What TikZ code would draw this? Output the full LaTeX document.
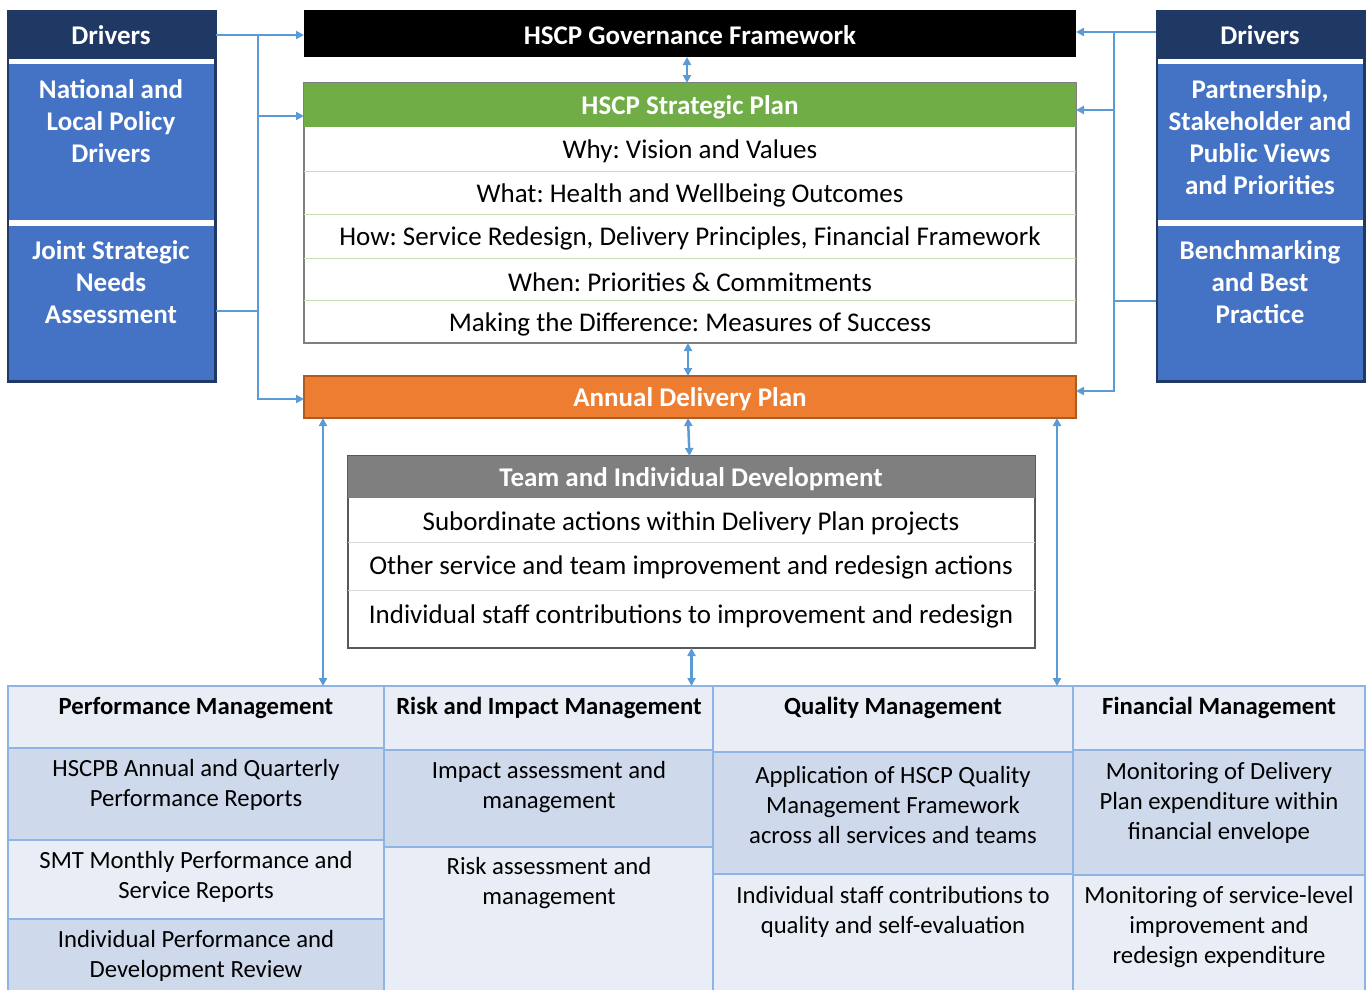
\documentclass[tikz,border=0pt]{standalone}
\usepackage{fontspec}
\setmainfont{Carlito}
\frenchspacing
\usetikzlibrary{arrows.meta}
\definecolor{navy}{HTML}{203864}
\definecolor{drvblue}{HTML}{4472C4}
\definecolor{linkblue}{HTML}{5B9BD5}
\definecolor{spgreen}{HTML}{70AD47}
\definecolor{spline}{HTML}{C5E0B4}
\definecolor{adporange}{HTML}{ED7D31}
\definecolor{adpedge}{HTML}{AE5A21}
\definecolor{tidgray}{HTML}{7F7F7F}
\definecolor{tidline}{HTML}{D9D9D9}
\definecolor{celllight}{HTML}{E9EDF5}
\definecolor{celldark}{HTML}{CFD9EC}
\definecolor{celledge}{HTML}{8EB4E3}
\tikzset{
	box/.style={anchor=north west, inner sep=0pt, outer sep=0pt},
	cell/.style={box, draw=celledge, line width=1.5pt},
	txt/.style={align=center, inner sep=0pt, yshift=-2pt, font=\fontsize{27}{32}\selectfont},
	bold/.style={txt, yshift=1pt, font=\fontsize{27}{32}\selectfont\bfseries, text=white},
	tabtxt/.style={align=center, inner sep=0pt, yshift=-2pt, font=\fontsize{24.7}{30}\selectfont},
	tabhead/.style={tabtxt, font=\fontsize{24.7}{30}\selectfont\bfseries},
	link/.style={draw=linkblue, line width=2.5pt},
	tip/.style={-{Triangle[length=8pt,width=8pt]}},
	dlink/.style={link, {Triangle[length=8pt,width=8pt]}-{Triangle[length=8pt,width=8pt]}}
}
\begin{document}
\begin{tikzpicture}[x=1pt, y=-1pt]
	\useasboundingbox (0,0) rectangle (1370,989);

	% drivers, left
	\node[box, fill=navy, draw=navy, line width=1pt, minimum width=209pt, minimum height=372pt] (drvL) at (7,10) {};
	\fill[white] (9,59) rectangle (214,226);
	\node[box, fill=drvblue, minimum width=205pt, minimum height=156pt] (polL) at (9,64) {};
	\node[box, fill=drvblue, minimum width=205pt, minimum height=154pt] (jsnL) at (9,226) {};
	\node[bold] (drvLt) at (111,34) {Drivers};
	\node[bold] (polLt) at (111,120) {National and\\Local Policy\\Drivers};
	\node[bold] (jsnLt) at (111,281) {Joint Strategic\\Needs\\Assessment};

	% drivers, right
	\node[box, fill=navy, draw=navy, line width=1pt, minimum width=209pt, minimum height=372pt] (drvR) at (1156,10) {};
	\fill[white] (1158,59) rectangle (1363,226);
	\node[box, fill=drvblue, minimum width=205pt, minimum height=156pt] (pubR) at (1158,64) {};
	\node[box, fill=drvblue, minimum width=205pt, minimum height=154pt] (bmkR) at (1158,226) {};
	\node[bold] (drvRt) at (1260,34) {Drivers};
	\node[bold] (pubRt) at (1260,136) {Partnership,\\Stakeholder and\\Public Views\\and Priorities};
	\node[bold] (bmkRt) at (1260,281) {Benchmarking\\and Best\\Practice};

	% governance and strategic plan
	\node[box, fill=black, minimum width=772pt, minimum height=47pt] (gov) at (304,10) {};
	\node[bold] (govt) at (690,34) {HSCP Governance Framework};
	\node[box, draw=tidgray, line width=1.5pt, minimum width=772pt, minimum height=260pt] (sp) at (304,83) {};
	\node[box, fill=spgreen, minimum width=772pt, minimum height=44pt] (sph) at (304,83) {};
	\node[bold] (spht) at (690,106) {HSCP Strategic Plan};
	\foreach \y in {171,214,258,300}
		\draw[spline, line width=1pt] (sp.west |- 0,\y) -- (sp.east |- 0,\y);
	\node[txt] (why) at (690,149) {Why: Vision and Values};
	\node[txt] (what) at (690,193) {What: Health and Wellbeing Outcomes};
	\node[txt] (how) at (690,236) {How: Service Redesign, Delivery Principles, Financial Framework};
	\node[txt] (when) at (690,280) {When: Priorities \& Commitments};
	\node[txt] (diff) at (690,322) {Making the Difference: Measures of Success};

	% annual delivery plan
	\node[box, fill=adporange, draw=adpedge, line width=1.5pt, minimum width=772pt, minimum height=42pt] (adp) at (304,376) {};
	\node[bold] (adpt) at (690,398) {Annual Delivery Plan};

	% team and individual development
	\node[box, draw=black!65, line width=1.5pt, minimum width=687pt, minimum height=192pt] (tid) at (348,456) {};
	\node[box, fill=tidgray, minimum width=687pt, minimum height=42pt] (tidh) at (348,456) {};
	\node[bold] (tidht) at (691,478) {Team and Individual Development};
	\foreach \y in {542,590}
		\draw[tidline, line width=1pt] (tid.west |- 0,\y) -- (tid.east |- 0,\y);
	\node[txt] (sub) at (691,521) {Subordinate actions within Delivery Plan projects};
	\node[txt] (oth) at (691,565) {Other service and team improvement and redesign actions};
	\node[txt] (ind) at (691,614) {Individual staff contributions to improvement and redesign};

	% management table
	\node[cell, fill=celllight, minimum width=376pt, minimum height=62pt] (pm) at (8,686) {};
	\node[cell, fill=celldark, minimum width=376pt, minimum height=92pt] (pm1) at (8,748) {};
	\node[cell, fill=celllight, minimum width=376pt, minimum height=79pt] (pm2) at (8,840) {};
	\node[cell, fill=celldark, minimum width=376pt, minimum height=80pt] (pm3) at (8,919) {};
	\node[cell, fill=celllight, minimum width=329pt, minimum height=64pt] (rm) at (384,686) {};
	\node[cell, fill=celldark, minimum width=329pt, minimum height=97pt] (rm1) at (384,750) {};
	\node[cell, fill=celllight, minimum width=329pt, minimum height=152pt] (rm2) at (384,847) {};
	\node[cell, fill=celllight, minimum width=360pt, minimum height=66pt] (qm) at (713,686) {};
	\node[cell, fill=celldark, minimum width=360pt, minimum height=122pt] (qm1) at (713,752) {};
	\node[cell, fill=celllight, minimum width=360pt, minimum height=125pt] (qm2) at (713,874) {};
	\node[cell, fill=celllight, minimum width=292pt, minimum height=64pt] (fm) at (1073,686) {};
	\node[cell, fill=celldark, minimum width=292pt, minimum height=125pt] (fm1) at (1073,750) {};
	\node[cell, fill=celllight, minimum width=292pt, minimum height=124pt] (fm2) at (1073,875) {};

	\node[tabhead] (pmt) at (196,706) {Performance Management};
	\node[tabtxt] (pm1t) at (196,783) {HSCPB Annual and Quarterly\\Performance Reports};
	\node[tabtxt] (pm2t) at (196,875) {SMT Monthly Performance and\\Service Reports};
	\node[tabtxt] (pm3t) at (196,954) {Individual Performance and\\Development Review};
	\node[tabhead] (rmt) at (549,706) {Risk and Impact Management};
	\node[tabtxt] (rm1t) at (549,785) {Impact assessment and\\management};
	\node[tabtxt] (rm2t) at (549,881) {Risk assessment and\\management};
	\node[tabhead] (qmt) at (893,706) {Quality Management};
	\node[tabtxt] (qm1t) at (893,803) {Application of HSCP Quality\\Management Framework\\across all services and teams};
	\node[tabtxt] (qm2t) at (893,910) {Individual staff contributions to\\quality and self-evaluation};
	\node[tabhead] (fmt) at (1219,706) {Financial Management};
	\node[tabtxt] (fm1t) at (1219,801) {Monitoring of Delivery\\Plan expenditure within\\financial envelope};
	\node[tabtxt] (fm2t) at (1219,925) {Monitoring of service-level\\improvement and\\redesign expenditure};

	% connectors, left
	\coordinate (busL) at (258,0);
	\coordinate (spL) at (304,116);
	\coordinate (jsnLo) at (216,311);
	\draw[link, tip] (drvLt -| drvL.east) -- (drvLt -| gov.west);
	\draw[link, tip] (busL |- drvLt) -- (busL |- adpt) -- (adpt -| adp.west);
	\draw[link, tip] (busL |- spL) -- (spL);
	\draw[link] (jsnLo) -- (busL |- jsnLo);

	% connectors, right
	\coordinate (busR) at (1114,0);
	\coordinate (spR) at (1076,110);
	\coordinate (gvR) at (1076,32);
	\coordinate (adR) at (1076,391);
	\coordinate (bmkRo) at (1156,301);
	\draw[link, tip] (gvR -| drvR.west) -- (gvR);
	\draw[link, tip] (busR |- gvR) -- (busR |- adR) -- (adR);
	\draw[link, tip] (busR |- spR) -- (spR);
	\draw[link] (bmkRo) -- (busR |- bmkRo);

	% vertical links
	\draw[dlink] ([xshift=-3pt]gov.south) -- ([xshift=-3pt]sp.north);
	\draw[dlink] ([xshift=-2pt]sp.south) -- ([xshift=-2pt]adp.north);
	\draw[dlink] ([xshift=-2pt]adp.south) -- ([xshift=-2pt]tid.north |- tid.north);
	\draw[dlink] (tid.south) -- (tid.south |- rm.north);
	\draw[dlink] ([xshift=19pt]adp.south west) -- ([xshift=19pt]adp.south west |- pm.north);
	\draw[dlink] ([xshift=-19pt]adp.south east) -- ([xshift=-19pt]adp.south east |- fm.north);
\end{tikzpicture}
\end{document}
